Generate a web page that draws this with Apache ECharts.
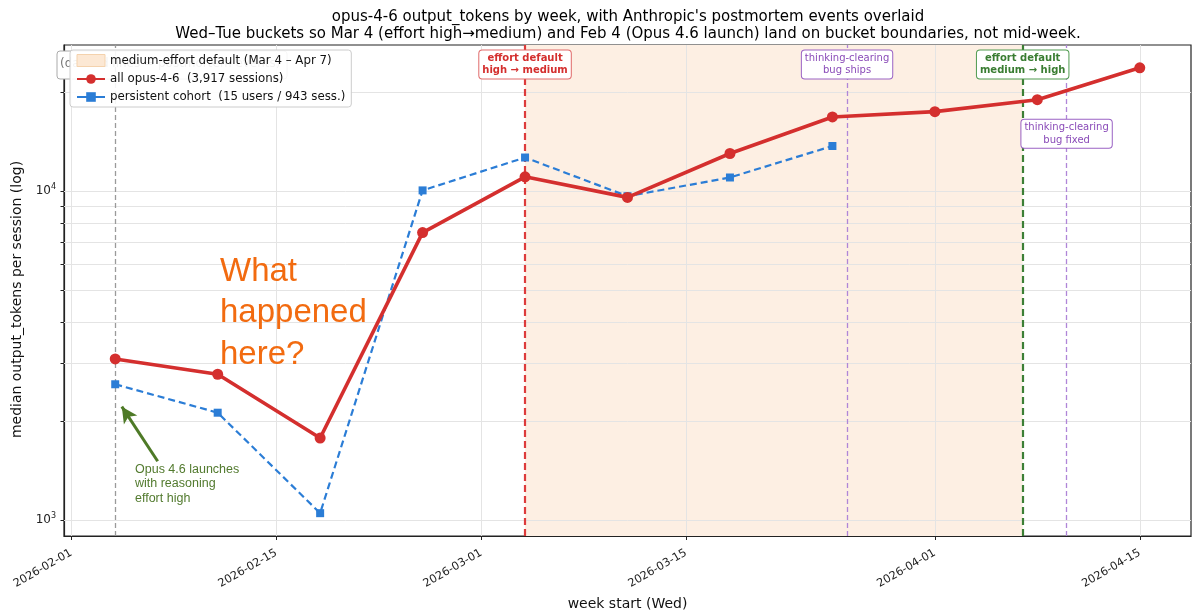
<!DOCTYPE html>
<html>
<head>
<meta charset="utf-8">
<script src="https://cdn.jsdelivr.net/npm/echarts@6/dist/echarts.min.js"></script>
<style>
  html, body { margin: 0; padding: 0; background: #fff; }
  #container { width: 1200px; height: 616px; }
</style>
</head>
<body>
<div id="container"></div>
<script>
// week buckets (Wed start) and medians
let weeks = ['2026-02-04', '2026-02-11', '2026-02-18', '2026-02-25', '2026-03-04', '2026-03-11',
             '2026-03-18', '2026-03-25', '2026-04-01', '2026-04-08', '2026-04-15'];
let allOpus = [3090, 2776, 1776, 7480, 11050, 9570, 13010, 16800, 17440, 18960, 23700];
let cohort = [2588, 2121, 1050, 10050, 12650, 9650, 11000, 13710];

let xTicks = ['2026-02-01', '2026-02-15', '2026-03-01', '2026-03-15', '2026-04-01', '2026-04-15'];
let yMajor = [1000, 10000];
let yMinor = [2000, 3000, 4000, 5000, 6000, 7000, 8000, 9000, 20000];

let shadeRange = ['2026-03-04', '2026-04-07'];
let launchDate = '2026-02-04';
let effortDown = '2026-03-04';
let bugShips = '2026-03-26';
let effortUp = '2026-04-07';
let bugFixed = '2026-04-10';

let shadeName = 'medium-effort default (Mar 4 \u2013 Apr 7)';
let allName = 'all opus-4-6  (3,917 sessions)';
let cohortName = 'persistent cohort  (15 users / 943 sess.)';

function t(s) {
  const [y, m, d] = s.split('-').map(Number);
  return new Date(y, m - 1, d).getTime();
}
const DAY = 86400000;

function fmtDate(v) {
  const d = new Date(v);
  const p = n => String(n).padStart(2, '0');
  return d.getFullYear() + '-' + p(d.getMonth() + 1) + '-' + p(d.getDate());
}

var dom = document.getElementById('container');
var myChart = echarts.init(dom, null, { renderer: 'canvas' });

const FONT = 'DejaVu Sans';
const RED = '#d42f2e';
const BLUE = '#2b7dd6';
const PURPLE = '#8a4bb8';
const GREEN = '#3a7d32';

function boxLabel(text, color, border, bold) {
  return {
    show: true,
    position: 'inside',
    formatter: text,
    color: color,
    fontFamily: FONT,
    fontSize: 10,
    fontWeight: bold ? 'bold' : 'normal',
    lineHeight: 12.5,
    align: 'center',
    backgroundColor: '#fff',
    borderColor: border,
    borderWidth: 1,
    borderRadius: 3,
    padding: [2, 3, 1, 3]
  };
}

var option = {
  animation: false,
  textStyle: { fontFamily: FONT },
  title: {
    text: "opus-4-6 output_tokens by week, with Anthropic's postmortem events overlaid\n" +
          'Wed\u2013Tue buckets so Mar 4 (effort high\u2192medium) and Feb 4 (Opus 4.6 launch) land on bucket boundaries, not mid-week.',
    left: 628,
    textAlign: 'center',
    top: 9,
    padding: 0,
    textStyle: { fontFamily: FONT, fontSize: 15, fontWeight: 'normal', color: '#000', lineHeight: 17 }
  },
  grid: {
    left: 64, right: 9, top: 45, bottom: 78,
    show: true, borderColor: '#222', borderWidth: 1.2, backgroundColor: 'transparent'
  },
  legend: {
    orient: 'vertical',
    left: 70, top: 50,
    z: 10,
    padding: [4, 6, 4, 6],
    itemGap: 6,
    itemWidth: 28,
    itemHeight: 12,
    backgroundColor: 'rgba(255,255,255,0.9)',
    borderColor: '#cccccc',
    borderWidth: 1,
    borderRadius: 3,
    textStyle: { fontFamily: FONT, fontSize: 11.8, color: '#111' },
    data: [
      { name: shadeName, icon: 'rect', itemStyle: { color: '#fce8d4', borderColor: '#f4d2ad', borderWidth: 1 } },
      { name: allName },
      { name: cohortName, lineStyle: { type: 'solid' } }
    ]
  },
  xAxis: {
    type: 'value',
    min: t('2026-01-31') + DAY / 2,
    max: t('2026-04-18') + DAY / 2,
    name: 'week start (Wed)',
    nameLocation: 'middle',
    nameGap: 61,
    nameTextStyle: { fontFamily: FONT, fontSize: 14, color: '#111' },
    axisLine: { show: true, lineStyle: { color: '#222', width: 1.2 } },
    axisTick: { show: true, length: 4, lineStyle: { color: '#222' }, customValues: xTicks.map(t) },
    axisLabel: {
      customValues: xTicks.map(t),
      rotate: 30,
      margin: 16,
      fontFamily: FONT,
      fontSize: 11.3,
      color: '#222',
      formatter: v => fmtDate(v)
    },
    splitLine: { show: false }
  },
  yAxis: {
    type: 'log',
    logBase: 10,
    min: 895,
    max: 27800,
    name: 'median output_tokens per session (log)',
    nameLocation: 'middle',
    nameGap: 36,
    nameTextStyle: { fontFamily: FONT, fontSize: 14, color: '#111', padding: [0, 18, 0, 0] },
    axisLine: { show: true, lineStyle: { color: '#222', width: 1.2 } },
    axisTick: { show: true, length: 3.5, lineStyle: { color: '#222' }, customValues: yMajor.concat(yMinor) },
    axisLabel: {
      customValues: yMajor,
      fontFamily: FONT,
      fontSize: 12,
      color: '#222',
      formatter: v => '10{s|' + Math.round(Math.log10(v)) + '}',
      rich: { s: { fontSize: 8, padding: [0, 0, 8, 0], fontFamily: FONT, color: '#222' } }
    },
    splitLine: { show: false }
  },
  graphic: [
    {
      type: 'rect', z: 3,
      shape: { x: 57, y: 51, width: 230, height: 28, r: 3 },
      style: { fill: '#fff', stroke: '#aaa', lineWidth: 1 }
    },
    {
      type: 'text', z: 3, left: 60, top: 58,
      style: { text: '(dashed lines = postmortem events)', fontFamily: FONT, fontSize: 12, fill: '#777' }
    },
    {
      type: 'text', z: 20, left: 220, top: 251,
      style: {
        text: 'What\nhappened\nhere?',
        fontFamily: 'Liberation Sans', fontSize: 33, lineHeight: 41.5, fill: '#f26b10'
      }
    },
    {
      type: 'text', z: 20, left: 135, top: 462,
      style: {
        text: 'Opus 4.6 launches\nwith reasoning\neffort high',
        fontFamily: 'Liberation Sans', fontSize: 12.5, lineHeight: 14.5, fill: '#527a2e'
      }
    }
  ],
  series: [
    {
      name: shadeName,
      type: 'line',
      data: [],
      z: 1,
      itemStyle: { color: '#fce8d4' },
      lineStyle: { color: '#fce8d4' },
      markArea: {
        silent: true,
        itemStyle: { color: '#fdefe3' },
        data: [[{ xAxis: t(shadeRange[0]) }, { xAxis: t(shadeRange[1]) }]]
      }
    },
    {
      name: 'grid',
      type: 'line',
      data: [],
      z: 2,
      markLine: {
        silent: true,
        symbol: 'none',
        label: { show: false },
        lineStyle: { color: '#e4e4e4', type: 'solid', width: 1 },
        data: yMajor.concat(yMinor).map(v => ({ yAxis: v }))
          .concat(xTicks.map(d => ({ xAxis: t(d) })))
      }
    },
    {
      name: 'events',
      type: 'line',
      data: [],
      z: 3,
      markLine: {
        silent: true,
        symbol: 'none',
        label: { show: false },
        data: [
          { xAxis: t(launchDate), lineStyle: { color: '#9a9a9a', type: [5, 3], width: 1.3 } },
          { xAxis: t(effortDown), lineStyle: { color: '#dd3b3b', type: [7, 4], width: 2.2 } },
          { xAxis: t(bugShips), lineStyle: { color: '#b086d8', type: [5, 3], width: 1.3 } },
          { xAxis: t(effortUp), lineStyle: { color: '#3c7f36', type: [7, 4], width: 2.2 } },
          { xAxis: t(bugFixed), lineStyle: { color: '#b086d8', type: [5, 3], width: 1.3 } }
        ]
      }
    },
    {
      name: cohortName,
      type: 'line',
      z: 5,
      data: cohort.map((v, i) => [t(weeks[i]), v]),
      symbol: 'rect',
      symbolSize: 8,
      itemStyle: { color: BLUE },
      lineStyle: { color: BLUE, width: 2.2, type: [7, 4] }
    },
    {
      name: allName,
      type: 'line',
      z: 6,
      data: allOpus.map((v, i) => [t(weeks[i]), v]),
      symbol: 'circle',
      symbolSize: 11,
      itemStyle: { color: RED },
      lineStyle: { color: RED, width: 3.6 }
    },
    {
      name: 'notes',
      type: 'line',
      data: [],
      z: 8,
      markLine: {
        silent: true,
        label: { show: false },
        symbolSize: [12, 16],
        lineStyle: { color: '#4e7a27', width: 3, type: 'solid' },
        data: [[
          { coord: [t(launchDate) + 2.9 * DAY, 1510], symbol: 'none' },
          { coord: [t(launchDate) + 0.45 * DAY, 2213], symbol: 'arrow' }
        ]]
      },
      markPoint: {
        silent: true,
        symbol: 'rect',
        symbolSize: 1,
        itemStyle: { color: 'rgba(0,0,0,0)' },
        data: [
          { coord: [t(effortDown), 24260], label: boxLabel('effort default\nhigh \u2192 medium', RED, '#e06b6b', true) },
          { coord: [t(bugShips), 24260], label: boxLabel('thinking-clearing\nbug ships', PURPLE, '#9a62c4', false) },
          { coord: [t(effortUp), 24260], label: boxLabel('effort default\nmedium \u2192 high', GREEN, '#4f9a4f', true) },
          { coord: [t(bugFixed), 14930], label: boxLabel('thinking-clearing\nbug fixed', PURPLE, '#9a62c4', false) }
        ]
      }
    }
  ]
};

myChart.setOption(option);
window.addEventListener('resize', myChart.resize);
</script>
</body>
</html>
